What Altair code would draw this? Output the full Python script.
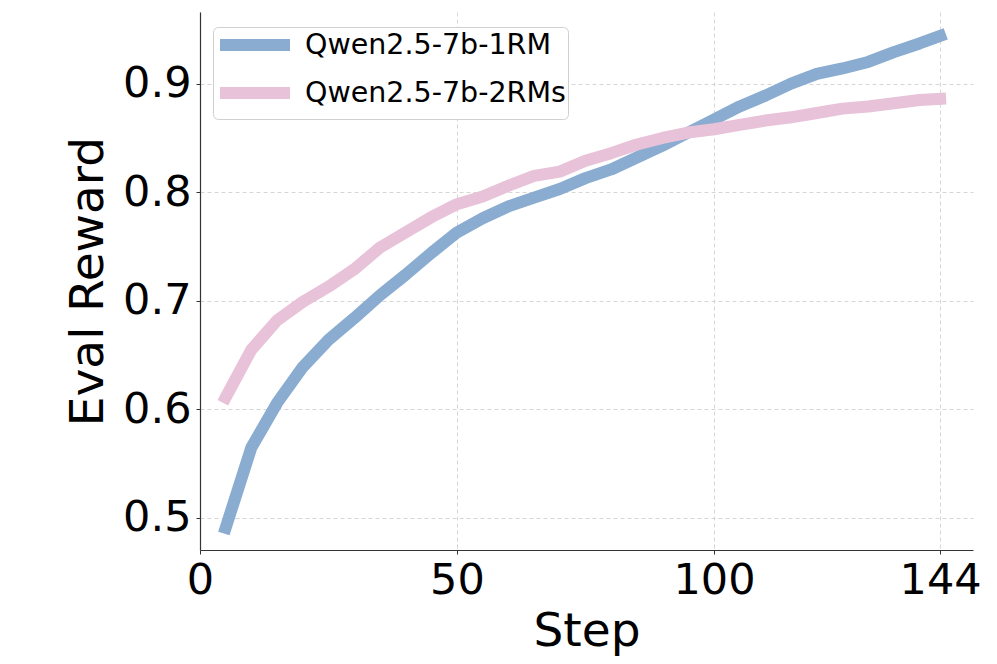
import altair as alt
import pandas as pd

steps = [5, 10, 15, 20, 25, 30, 35, 40, 45, 50, 55, 60, 65, 70, 75, 80, 85, 90,
         95, 100, 105, 110, 115, 120, 125, 130, 135, 140, 144]
reward_1rm = [0.491, 0.565, 0.606, 0.639, 0.664, 0.684, 0.705, 0.724, 0.744, 0.763,
              0.776, 0.787, 0.795, 0.803, 0.813, 0.821, 0.832, 0.843, 0.855, 0.867,
              0.879, 0.889, 0.900, 0.909, 0.914, 0.920, 0.929, 0.937, 0.944]
reward_2rms = [0.611, 0.655, 0.682, 0.699, 0.713, 0.729, 0.749, 0.763, 0.777, 0.789,
               0.796, 0.806, 0.815, 0.819, 0.829, 0.836, 0.844, 0.850, 0.855, 0.858,
               0.862, 0.866, 0.869, 0.873, 0.877, 0.879, 0.882, 0.885, 0.886]
series_names = ["Qwen2.5-7b-1RM", "Qwen2.5-7b-2RMs"]
series_colors = ["#8aacd0", "#e8c2d8"]
x_ticks = [0, 50, 100, 144]
y_ticks = [0.5, 0.6, 0.7, 0.8, 0.9]

rows = []
for s, a, b in zip(steps, reward_1rm, reward_2rms):
    rows.append({"Step": s, "Reward": a, "Model": series_names[0]})
    rows.append({"Step": s, "Reward": b, "Model": series_names[1]})
df = pd.DataFrame(rows)

font = "DejaVu Sans"
pad_chars = "\u2003"

chart = alt.Chart(df).mark_line(
    strokeWidth=12, strokeCap="square", strokeJoin="round"
).encode(
    x=alt.X("Step:Q", scale=alt.Scale(domain=[0, 150.4], nice=False, zero=False),
            axis=alt.Axis(values=x_ticks, title="Step", format="d", labelFlush=False)),
    y=alt.Y("Reward:Q", scale=alt.Scale(domain=[0.4705, 0.966], nice=False, zero=False),
            axis=alt.Axis(values=y_ticks, title="Eval Reward", format=".1f")),
    color=alt.Color("Model:N",
                    scale=alt.Scale(domain=series_names, range=series_colors),
                    legend=alt.Legend(title=None, orient="none", legendX=13, legendY=15,
                                      symbolType="M-1.1,0H5.9", symbolStrokeWidth=12,
                                      symbolSize=400, labelFontSize=28.5, labelFont=font,
                                      labelLimit=400, labelOffset=58, rowPadding=0,
                                      labelExpr="datum.label + '" + pad_chars + "'",
                                      padding=2, fillColor="white", strokeColor="#d0d0d0",
                                      cornerRadius=5)),
    order=alt.Order("Step:Q"),
).properties(
    width=773, height=538,
    autosize=alt.AutoSizeParams(type="none"),
    padding={"left": 192, "top": 4, "right": 16, "bottom": 106},
).configure_view(stroke=None).configure_axis(
    labelFont=font, titleFont=font, labelFontSize=43, titleFontSize=47,
    titleFontWeight="normal", labelColor="black", titleColor="black",
    domainColor="#333333", domainWidth=1.2, tickColor="#333333", tickSize=4,
    gridColor="#cccccc", gridDash=[4, 3], gridWidth=0.8,
    labelPadding=5,
).configure_axisY(titlePadding=10).configure_axisX(titlePadding=6)

chart.save("out.html", embed_options={"renderer": "svg", "actions": False})
